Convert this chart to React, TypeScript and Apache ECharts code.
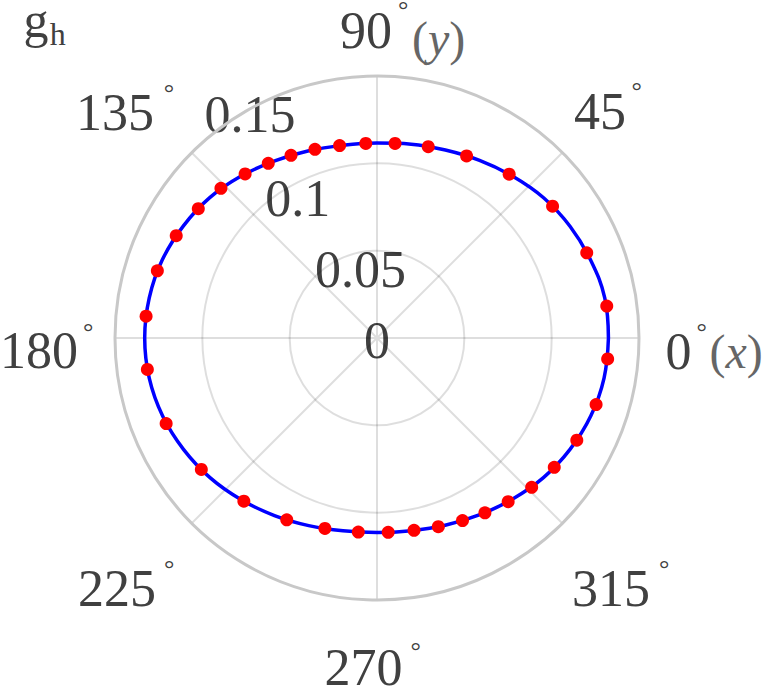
import React, { useEffect, useRef } from "react";
import * as echarts from "echarts";

// ---- data ----
// blue curve: radius at every 10 degrees
const lineAngles = [0, 10, 20, 30, 40, 50, 60, 70, 80, 90, 100, 110, 120, 130, 140, 150, 160, 170, 180,
  190, 200, 210, 220, 230, 240, 250, 260, 270, 280, 290, 300, 310, 320, 330, 340, 350, 360];
const lineRadii = [0.1325, 0.1324, 0.1302, 0.1277, 0.1247, 0.1209, 0.1174, 0.1145, 0.1127, 0.1116,
  0.1120, 0.1141, 0.1171, 0.1210, 0.1250, 0.1281, 0.1308, 0.1324, 0.1330,
  0.1324, 0.1306, 0.1278, 0.1246, 0.1209, 0.1174, 0.1143, 0.1121, 0.1114,
  0.1120, 0.1141, 0.1170, 0.1205, 0.1244, 0.1276, 0.1303, 0.1320, 0.1325];

// red dots
const dotAngles = [7.9, 22.1, 36.9, 51.1, 63.8, 75.0, 84.7, 93.3, 101.0, 108.2, 115.2, 121.9, 128.8,
  136.2, 144.1, 153.0, 163.0, 174.6, 187.8, 202.1, 216.8, 230.8, 243.6, 254.7, 264.5, 273.3,
  280.9, 288.0, 295.1, 301.7, 308.7, 316.0, 323.9, 332.9, 343.1, 354.8];
const dotRadii = [0.1328, 0.1296, 0.1257, 0.1205, 0.1162, 0.1134, 0.1119, 0.1116, 0.1122, 0.1137,
  0.1156, 0.1178, 0.1205, 0.1238, 0.1263, 0.1290, 0.1315, 0.1328, 0.1327, 0.1303, 0.1256,
  0.1206, 0.1162, 0.1130, 0.1116, 0.1114, 0.1121, 0.1136, 0.1154, 0.1176, 0.1201, 0.1231,
  0.1256, 0.1285, 0.1311, 0.1326];

// tick labels
const angleTicks = ["0", "45", "90", "135", "180", "225", "270", "315"];
const angleSuffix = ["x", "", "y", "", "", "", "", ""];
const radiusTicks = ["0", "0.05", "0.1", "0.15"];
const yLabelMain = "g";
const yLabelSub = "h";

// ---- layout (positions only) ----
const CX = 377;
const CY = 338;
const R = 262;
const angleLabelPos = [
  [665.5, 351.5], [574, 111], [340, 30], [76, 112],
  [0, 350], [78, 588], [324.5, 667], [572, 588],
];
const degreePos = [
  [701.7, 331.7], [636.6, 90.7], [403.3, 9.5], [169, 92.7],
  [88.3, 331], [169.3, 568.7], [415.8, 650.7], [664.2, 568.7],
];
const suffixPos = [[709.5, 351], null, [412, 38.7], null, null, null, null, null];
const radiusLabelPos = [[377, 340], [360.5, 269.2], [297.8, 198.3], [250, 114.2]];

const FAMILY = "Liberation Serif";
const TEXT = "#404040";
const SUFFIX = "#666666";

function txt(text: string, x: number, y: number, size: number, align: string, color = TEXT, extra: any = {}) {
  return {
    type: "text",
    x,
    y,
    silent: true,
    style: {
      text,
      fill: color,
      fontSize: size,
      fontFamily: FAMILY,
      align,
      verticalAlign: "middle",
      ...extra,
    },
  };
}

export default function App() {
  const ref = useRef<HTMLDivElement>(null);
  useEffect(() => {
    if (!ref.current) return;
    const chart = echarts.init(ref.current, undefined, { renderer: "svg" });

    const graphics: any[] = [];
    angleTicks.forEach((t, i) => {
      graphics.push(txt(t, angleLabelPos[i][0], angleLabelPos[i][1], 52, "left"));
      graphics.push(txt("°", degreePos[i][0], degreePos[i][1], 26, "center"));
      const sp = suffixPos[i];
      if (angleSuffix[i] && sp) {
        graphics.push(
          txt("{p|(}{i|" + angleSuffix[i] + "}{p|)}", sp[0], sp[1], 48, "left", SUFFIX, {
            rich: {
              p: { fontSize: 48, fontFamily: FAMILY, fill: SUFFIX, fontStyle: "normal" },
              i: { fontSize: 48, fontFamily: FAMILY, fill: SUFFIX, fontStyle: "italic" },
            },
          })
        );
      }
    });
    radiusTicks.forEach((t, i) => {
      graphics.push(txt(t, radiusLabelPos[i][0], radiusLabelPos[i][1], 52, "center"));
    });
    graphics.push(txt(yLabelMain, 23.6, 19.5, 50, "left"));
    graphics.push(txt(yLabelSub, 49.7, 34.2, 32, "left"));

    chart.setOption({
      animation: false,
      backgroundColor: "#ffffff",
      textStyle: { fontFamily: FAMILY },
      polar: { center: [CX, CY], radius: R },
      angleAxis: {
        type: "value",
        min: 0,
        max: 360,
        interval: 45,
        startAngle: 0,
        clockwise: false,
        axisLine: { show: true, lineStyle: { color: "#c8c8c8", width: 3 } },
        axisTick: { show: false },
        axisLabel: { show: false },
        splitLine: { show: true, lineStyle: { color: "rgba(0,0,0,0.13)", width: 2 } },
        z: 2,
      },
      radiusAxis: {
        type: "value",
        min: 0,
        max: 0.15,
        interval: 0.05,
        axisLine: { show: false },
        axisTick: { show: false },
        axisLabel: { show: false },
        splitLine: { show: true, lineStyle: { color: ["rgba(0,0,0,0.13)", "rgba(0,0,0,0.13)", "rgba(0,0,0,0.13)", "rgba(0,0,0,0)"], width: 2 } },
        z: 1,
      },
      series: [
        {
          type: "line",
          coordinateSystem: "polar",
          data: lineAngles.map((a, i) => [lineRadii[i], a]),
          smooth: 0.4,
          showSymbol: false,
          lineStyle: { color: "#0000ff", width: 3.5 },
          z: 3,
        },
        {
          type: "scatter",
          coordinateSystem: "polar",
          data: dotAngles.map((a, i) => [dotRadii[i], a]),
          symbol: "circle",
          symbolSize: 13,
          itemStyle: { color: "#ff0000", opacity: 1 },
          z: 4,
        },
      ],
      graphic: { elements: graphics },
    });
    return () => chart.dispose();
  }, []);
  return <div ref={ref} style={{ position: "absolute", left: 0, top: 0, width: 764, height: 692 }} />;
}
